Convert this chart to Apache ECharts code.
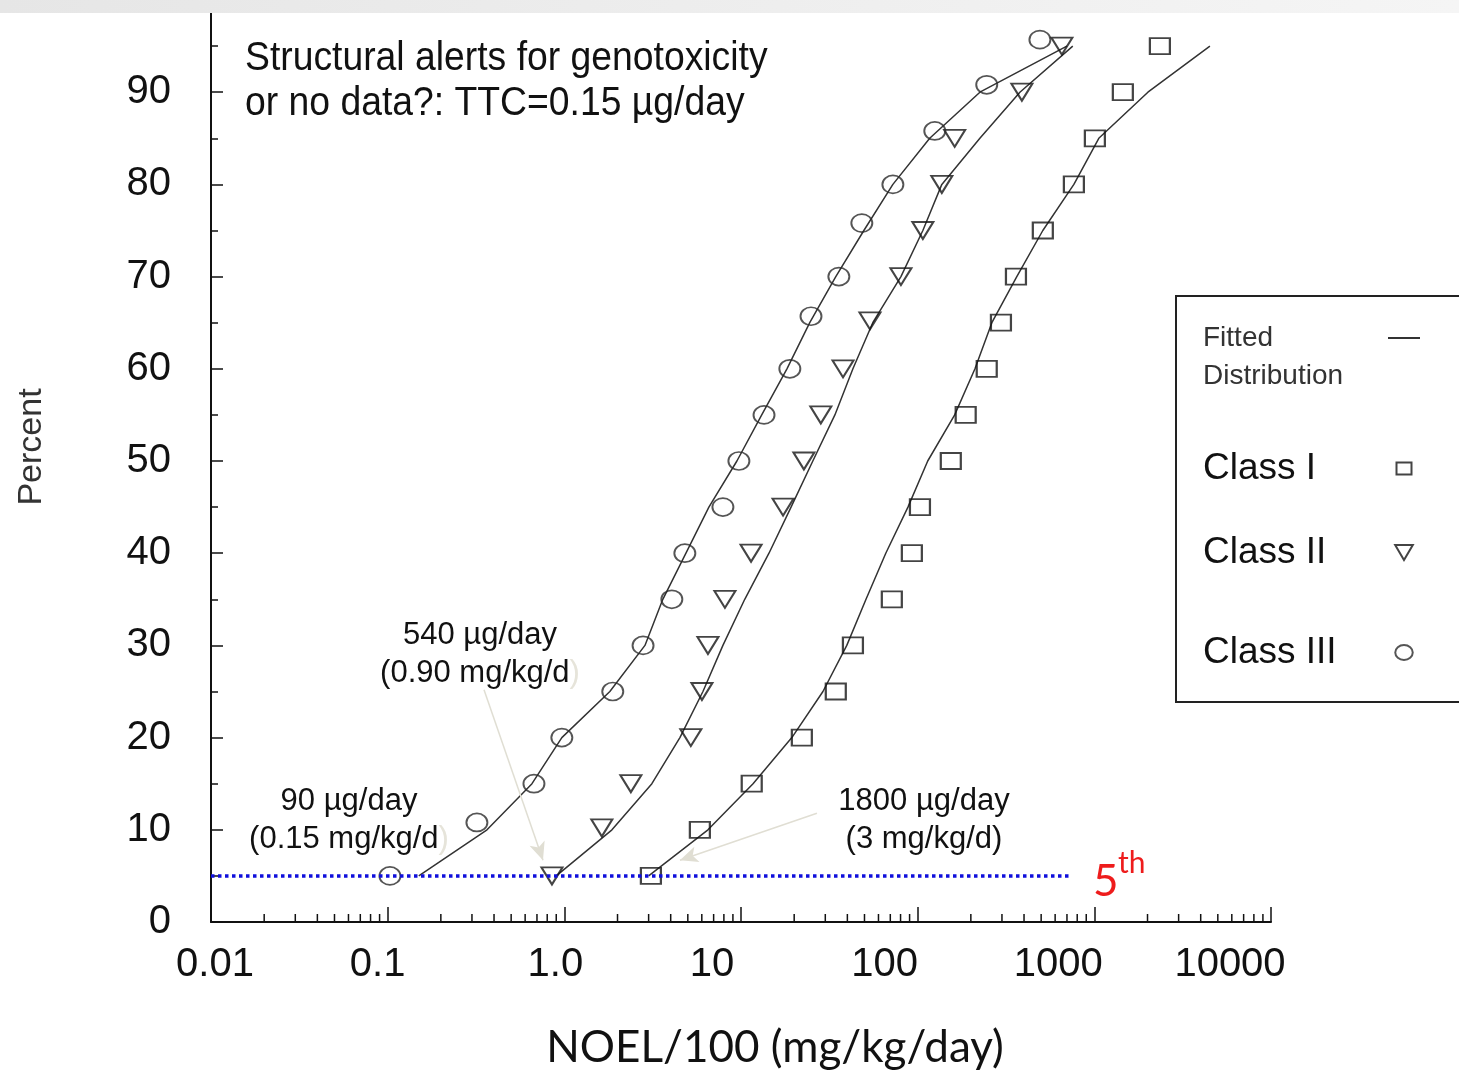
<!DOCTYPE html>
<html>
<head>
<meta charset="utf-8">
<script src="https://cdn.jsdelivr.net/npm/echarts@6/dist/echarts.min.js"></script>
<style>
html,body{margin:0;padding:0;background:#ffffff;}
#chart{width:1459px;height:1075px;}
</style>
</head>
<body>
<div id="chart"></div>
<script>
// ---------- data ----------
const percentiles = [5, 10, 15, 20, 25, 30, 35, 40, 45, 50, 55, 60, 65, 70, 75, 80, 85, 90, 95];

// Class I (squares)
const classIX = [3.09, 5.85, 11.5, 22.1, 34.4, 43.0, 71.4, 92.7, 103, 154, 187, 246, 296, 360, 511, 766, 1007, 1450, 2350];
const classIY = [5, 10, 15, 20, 25, 30, 35, 40, 45, 50, 55, 60, 65, 70, 75, 80, 85, 90, 95];

// Class II (triangles)
const classIIX = [0.851, 1.63, 2.38, 5.20, 6.01, 6.50, 8.11, 11.4, 17.3, 22.7, 28.3, 37.8, 53.7, 80.4, 107, 137, 162, 389, 655];
const classIIY = [5, 10.2, 15, 20, 25, 30, 35, 40, 45, 50, 55, 60, 65.2, 70, 75, 80, 85, 90, 95];

// Class III (circles)
const classIIIX = [0.103, 0.320, 0.673, 0.968, 1.88, 2.79, 4.06, 4.81, 7.90, 9.73, 13.5, 18.9, 24.9, 35.8, 48.3, 72.4, 125, 246, 492];
const classIIIY = [5, 10.8, 15, 20, 25, 30, 35, 40, 45, 50, 55, 60, 65.7, 70, 75.8, 80, 85.8, 90.8, 95.7];

// Fitted distributions (x at each percentile)
const fitIX   = [3.0, 6.50, 11.7, 19.4, 29.1, 39.7, 51.0, 66.0, 88.1, 114, 162, 211, 263, 364, 511, 766, 1060, 2010, 4510];
const fitIIX  = [0.90, 1.86, 3.13, 4.51, 6.09, 7.90, 10.5, 14.4, 19.2, 25.5, 34.0, 43.0, 55.7, 80.4, 107, 137, 225, 379, 755];
const fitIIIX = [0.15, 0.365, 0.656, 0.968, 1.81, 2.86, 3.61, 4.88, 6.58, 9.48, 13.1, 18.2, 24.5, 34.4, 49.6, 72.4, 117, 225, 699];

// 5th percentile reference line
const fifthLineX = [0.01, 730];
const fifthLineY = [5, 5];

// axis tick labels
const xTickLabels = ['0.01', '0.1', '1.0', '10', '100', '1000', '10000'];
const xMinorTicks = [0.02, 0.03, 0.04, 0.05, 0.06, 0.07, 0.08, 0.09,
                     0.2, 0.3, 0.4, 0.5, 0.6, 0.7, 0.8, 0.9,
                     2, 3, 4, 5, 6, 7, 8, 9,
                     20, 30, 40, 50, 60, 70, 80, 90,
                     200, 300, 400, 500, 600, 700, 800, 900,
                     2000, 3000, 4000, 5000, 6000, 7000, 8000, 9000];

// ---------- helpers ----------
const zip = (xs, ys) => xs.map((x, i) => [x, ys[i]]);

const FONT = 'Liberation Sans, Arial, sans-serif';
const INK = '#111111';
const labelPads = [[0, 0, 0, 8], [0, 20, 0, 0], [0, 18, 0, 0], [0, 58, 0, 0], [0, 66, 0, 0], [0, 72, 0, 0], [0, 82, 0, 0]];
const xRich = {};
labelPads.forEach((p, i) => {
  xRich['l' + i] = { fontSize: 40, color: INK, fontFamily: FONT, padding: p };
});

const markerStyle = { color: 'rgba(0,0,0,0)', borderColor: '#151515', borderWidth: 2 };

const legendBase = {
  orient: 'vertical', left: 1203, align: 'right', selectedMode: false,
  padding: 0, itemGap: 0, itemWidth: 32, itemHeight: 14, symbolKeepAspect: true
};
const classRich = { c: { fontSize: 37, width: 180, align: 'left', color: INK, fontFamily: FONT } };

const chart = echarts.init(document.getElementById('chart'), null, { renderer: 'canvas' });

const option = {
  animation: false,
  backgroundColor: '#ffffff',
  grid: { left: 211, right: 188, top: 0, bottom: 153, containLabel: false },
  xAxis: {
    type: 'log',
    logBase: 10,
    min: 0.01,
    max: 10000,
    splitNumber: 6,
    axisLine: { show: true, lineStyle: { color: INK, width: 2 } },
    axisTick: { show: true, inside: true, length: 15, lineStyle: { color: INK, width: 1.5 } },
    minorTick: { show: false },
    splitLine: { show: false },
    axisLabel: {
      margin: 23,
      fontSize: 40,
      color: INK,
      fontFamily: FONT,
      formatter: function (v) {
        const i = Math.round(Math.log10(v)) + 2;
        return '{l' + i + '|' + xTickLabels[i] + '}';
      },
      rich: xRich
    },
    name: 'NOEL/100 (mg/kg/day)',
    nameLocation: 'middle',
    nameGap: 104,
    nameTextStyle: { fontSize: 44, color: INK, fontFamily: 'Lato, sans-serif', padding: [0, 0, 0, 68] }
  },
  yAxis: {
    type: 'value',
    min: 0,
    max: 100,
    interval: 10,
    axisLine: { show: true, lineStyle: { color: INK, width: 2 } },
    axisTick: { show: true, inside: true, length: 12, lineStyle: { color: INK, width: 1.5 } },
    minorTick: { show: true, splitNumber: 2, length: 7, lineStyle: { color: INK, width: 1.5 } },
    splitLine: { show: false },
    axisLabel: {
      margin: 40,
      fontSize: 40,
      color: INK,
      fontFamily: FONT,
      formatter: function (v) { return v === 100 ? '' : String(v); }
    },
    name: 'Percent',
    nameLocation: 'middle',
    nameGap: 162,
    nameRotate: 90,
    nameTextStyle: { fontSize: 34, color: '#333333', fontFamily: FONT, padding: [0, 0, 0, 28] }
  },
  legend: [
    Object.assign({}, legendBase, {
      top: 281,
      data: [{ name: 'Fitted Distribution', icon: 'path://M0,0H32V2H0Z' }],
      formatter: function () { return '{e| }\n{f|Fitted}\n{f|Distribution}'; },
      textStyle: {
        fontFamily: FONT, lineHeight: 38,
        rich: {
          e: { fontSize: 28, lineHeight: 38, width: 180, align: 'left', fontFamily: FONT },
          f: { fontSize: 28, lineHeight: 38, width: 180, align: 'left', color: '#333333', fontFamily: FONT }
        }
      }
    }),
    Object.assign({}, legendBase, {
      top: 450, itemHeight: 12, data: ['Class I'],
      formatter: '{c|{name}}', textStyle: { fontFamily: FONT, rich: classRich }
    }),
    Object.assign({}, legendBase, {
      top: 534, itemHeight: 15, data: ['Class II'],
      formatter: '{c|{name}}', textStyle: { fontFamily: FONT, rich: classRich }
    }),
    Object.assign({}, legendBase, {
      top: 634, itemHeight: 15, data: ['Class III'],
      formatter: '{c|{name}}', textStyle: { fontFamily: FONT, rich: classRich }
    })
  ],
  series: [
    {
      type: 'custom',
      name: 'minor ticks',
      silent: true,
      clip: false,
      z: 1,
      data: xMinorTicks.map(v => [v, 0]),
      renderItem: function (params, api) {
        const p = api.coord([api.value(0), 0]);
        return {
          type: 'line',
          shape: { x1: p[0], y1: p[1], x2: p[0], y2: p[1] - 8 },
          style: { stroke: INK, lineWidth: 1.5 }
        };
      }
    },
    {
      type: 'line', name: 'Fitted Distribution', data: zip(fitIX, percentiles),
      symbol: 'none', silent: true, z: 2,
      lineStyle: { color: '#333333', width: 1.5 }, itemStyle: { color: '#333333' }
    },
    {
      type: 'line', name: 'Fitted Distribution', data: zip(fitIIX, percentiles),
      symbol: 'none', silent: true, z: 2,
      lineStyle: { color: '#333333', width: 1.5 }, itemStyle: { color: '#333333' }
    },
    {
      type: 'line', name: 'Fitted Distribution', data: zip(fitIIIX, percentiles),
      symbol: 'none', silent: true, z: 2,
      lineStyle: { color: '#333333', width: 1.5 }, itemStyle: { color: '#333333' }
    },
    {
      type: 'scatter', name: 'Class I', data: zip(classIX, classIY), z: 3,
      symbol: 'path://M0,0H20V16H0Z', symbolSize: [20, 16],
      itemStyle: markerStyle
    },
    {
      type: 'scatter', name: 'Class II', data: zip(classIIX, classIIY), z: 3,
      symbol: 'path://M0,0H20L10,17Z', symbolSize: [21, 17],
      itemStyle: markerStyle
    },
    {
      type: 'scatter', name: 'Class III', data: zip(classIIIX, classIIIY), z: 3,
      symbol: 'path://M0,9A10.5,9 0 1,0 21,9A10.5,9 0 1,0 0,9Z', symbolSize: [21, 18],
      itemStyle: { color: 'rgba(0,0,0,0)', borderColor: '#2a2a2a', borderWidth: 1.8 }
    },
    {
      type: 'line', name: '5th percentile', data: zip(fifthLineX, fifthLineY),
      symbol: 'none', silent: true, z: 4,
      lineStyle: { color: '#0f0fdc', width: 3.5, type: [3.5, 3.5] },
      markLine: {
        silent: true,
        symbol: ['none', 'arrow'],
        symbolSize: [12, 18],
        label: { show: false },
        lineStyle: { color: '#e0ded3', width: 1.5, type: 'solid' },
        data: [
          [{ coord: [0.351, 25.2] }, { coord: [0.757, 6.7] }],
          [{ coord: [26.9, 11.8] }, { coord: [4.51, 6.7] }]
        ]
      }
    }
  ],
  graphic: [
    {
      type: 'rect', z: 100, silent: true,
      shape: { x: 0, y: 0, width: 1459, height: 13 },
      style: {
        fill: new echarts.graphic.LinearGradient(0, 0, 1, 0, [
          { offset: 0, color: '#e6e6e6' }, { offset: 1, color: '#f5f5f5' }
        ])
      }
    },
    {
      type: 'rect', z: 10, silent: true,
      shape: { x: 1176, y: 296, width: 400, height: 406 },
      style: { fill: 'none', stroke: '#222222', lineWidth: 2 }
    },
    {
      type: 'text', z: 50, silent: true, x: 245, y: 36, scaleX: 0.91,
      style: {
        text: 'Structural alerts for genotoxicity\nor no data?: TTC=0.15 µg/day',
        fontSize: 41, fontFamily: FONT,
        lineHeight: 45, fill: INK, verticalAlign: 'top', align: 'left'
      }
    },
    {
      type: 'text', z: 50, silent: true, x: 480, y: 654,
      style: {
        text: '540 µg/day\n(0.90 mg/kg/d{p|)}',
        fontSize: 31, fontFamily: FONT, lineHeight: 38, fill: INK,
        align: 'center', verticalAlign: 'middle',
        rich: { p: { fill: '#e6e4da', fontSize: 31, fontFamily: FONT } }
      }
    },
    {
      type: 'text', z: 50, silent: true, x: 349, y: 820,
      style: {
        text: '90 µg/day\n(0.15 mg/kg/d{p|)}',
        fontSize: 31, fontFamily: FONT, lineHeight: 38, fill: INK,
        align: 'center', verticalAlign: 'middle',
        rich: { p: { fill: '#e6e4da', fontSize: 31, fontFamily: FONT } }
      }
    },
    {
      type: 'text', z: 50, silent: true, x: 924, y: 820,
      style: {
        text: '1800 µg/day\n(3 mg/kg/d)',
        fontSize: 31, fontFamily: FONT, lineHeight: 38, fill: INK,
        align: 'center', verticalAlign: 'middle'
      }
    },
    {
      type: 'text', z: 50, silent: true, x: 1093, y: 882,
      style: {
        text: '5', fontSize: 44, fontFamily: 'Lato, sans-serif', fill: '#ee1c1c',
        align: 'left', verticalAlign: 'middle'
      }
    },
    {
      type: 'text', z: 50, silent: true, x: 1118, y: 863,
      style: {
        text: 'th', fontSize: 30, fontFamily: 'Lato, sans-serif', fill: '#ee1c1c',
        align: 'left', verticalAlign: 'middle'
      }
    }
  ]
};

chart.setOption(option);
</script>
</body>
</html>
